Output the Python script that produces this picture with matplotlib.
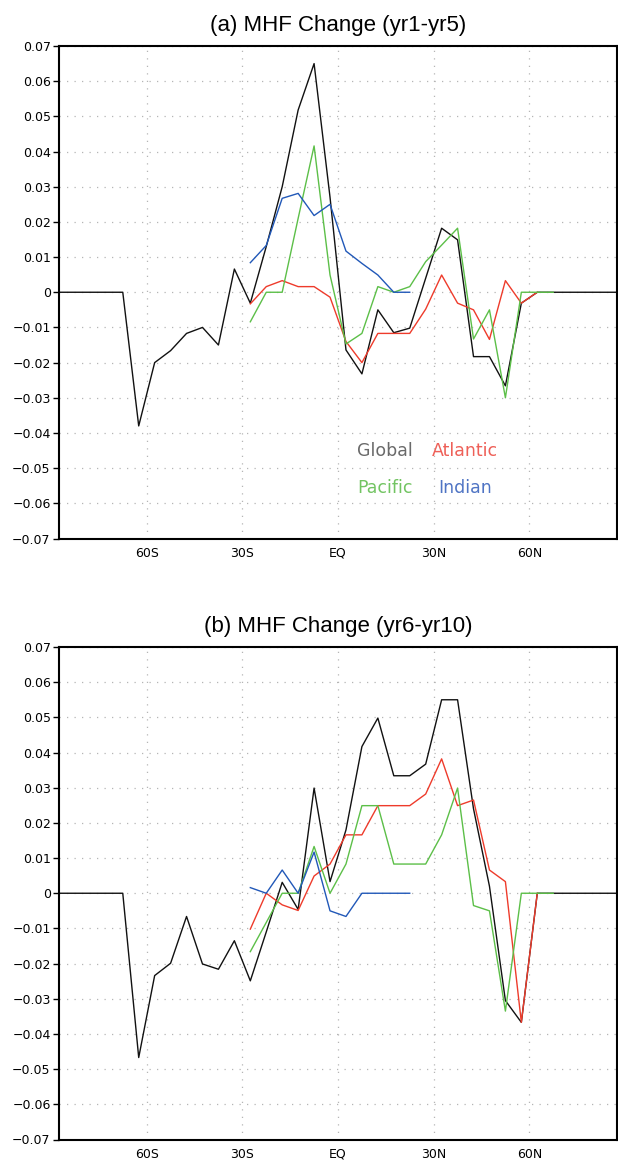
# %% Imports
import numpy as np
import matplotlib
matplotlib.use("Agg")
import matplotlib.pyplot as plt

# %% Data: meridional heat flux change (PW) on 5-degree latitude bands
lats = np.arange(-87.5, 90.0, 5.0)
basin_start_lat = -27.5

global_a = [0, 0, 0, 0, 0,
            -0.038, -0.020, -0.0166, -0.0117, -0.010, -0.015, 0.0066, -0.0031,
            0.013, 0.030, 0.0518, 0.065, 0.027,
            -0.0164, -0.0232, -0.005, -0.0115, -0.0102, 0.004, 0.0182, 0.0149,
            -0.0183, -0.0183, -0.0266, -0.0031,
            0, 0, 0, 0, 0, 0]
atlantic_a = [-0.0033, 0.0016, 0.0033, 0.0016, 0.0016, -0.0014,
              -0.014, -0.020, -0.0117, -0.0117, -0.0117, -0.0048, 0.0049,
              -0.0031, -0.005, -0.0134, 0.0033, -0.0031, 0]
pacific_a = [-0.0084, 0, 0, 0.021, 0.0416, 0.0049,
             -0.0147, -0.0117, 0.0016, 0, 0.0016, 0.0087, 0.0134, 0.0182,
             -0.0133, -0.005, -0.030, 0, 0, 0]
indian_a = [0.0084, 0.0133, 0.0267, 0.0281, 0.0218, 0.025,
            0.0117, 0.0082, 0.0049, 0, 0]

global_b = [0, 0, 0, 0, 0,
            -0.0467, -0.0234, -0.0199, -0.0066, -0.0201, -0.0216, -0.0135,
            -0.0249, -0.011, 0.0031, -0.0046, 0.0299, 0.0033,
            0.018, 0.0417, 0.0498, 0.0334, 0.0334, 0.0367, 0.055, 0.055,
            0.024, 0.002, -0.0305, -0.0367,
            0, 0, 0, 0, 0, 0]
atlantic_b = [-0.0102, 0, -0.0033, -0.0049, 0.0049, 0.0083,
              0.0166, 0.0166, 0.0249, 0.0249, 0.0249, 0.0282, 0.0382,
              0.0249, 0.0265, 0.0066, 0.0033, -0.0367, 0]
pacific_b = [-0.0166, -0.0083, 0, 0, 0.0133, 0,
             0.0083, 0.0249, 0.0249, 0.0083, 0.0083, 0.0083, 0.0166, 0.0299,
             -0.0035, -0.005, -0.0335, 0, 0, 0]
indian_b = [0.0016, 0, 0.0066, 0, 0.0117, -0.005,
            -0.0066, 0, 0, 0, 0]

xtick_vals = [-60, -30, 0, 30, 60]
xtick_labels = ["60S", "30S", "EQ", "30N", "60N"]
ytick_vals = np.round(np.arange(-0.07, 0.0701, 0.01), 2)
ytick_labels = ["\u22120.07", "\u22120.06", "\u22120.05", "\u22120.04",
                "\u22120.03", "\u22120.02", "\u22120.01", "0", "0.01",
                "0.02", "0.03", "0.04", "0.05", "0.06", "0.07"]

names = ["Global", "Atlantic", "Pacific", "Indian"]
line_colors = ["#111111", "#ee3b2b", "#5cbf48", "#2158b8"]
text_colors = ["#6a6a6a", "#ee6058", "#72c462", "#4f74c4"]


def basin_lats(vals):
    i0 = int(np.where(lats == basin_start_lat)[0][0])
    return lats[i0:i0 + len(vals)]


def draw_panel(ax, title, series, legend=False):
    ax.plot(lats, series[0], color=line_colors[0], lw=1.0)
    for vals, c in zip(series[1:], line_colors[1:]):
        ax.plot(basin_lats(vals), vals, color=c, lw=1.0)
    ax.set_xlim(-87.5, 87.5)
    ax.set_ylim(-0.07, 0.07)
    ax.set_xticks(xtick_vals)
    ax.set_xticklabels(xtick_labels)
    ax.set_yticks(ytick_vals)
    ax.set_yticklabels(ytick_labels)
    ax.tick_params(axis="x", length=0, pad=6, labelsize=9)
    ax.tick_params(axis="y", length=4, width=1, pad=2, labelsize=9)
    ax.grid(True, color="#b5b5b5", lw=0.9, linestyle=(0, (1, 5)))
    for sp in ax.spines.values():
        sp.set_linewidth(1.5)
    ax.set_title(title, fontsize=16, family="Liberation Sans", pad=11)
    if legend:
        pos = [(0.584, 0.178), (0.727, 0.178), (0.584, 0.103), (0.727, 0.103)]
        for name, c, (px, py) in zip(names, text_colors, pos):
            ax.text(px, py, name, color=c, transform=ax.transAxes,
                    ha="center", va="center", fontsize=12.5,
                    family="DejaVu Sans")


# %% Make Plots
fig = plt.figure(figsize=(6.18, 11.6), dpi=100)
W, H = 618.0, 1160.0
ax_a = fig.add_axes([59 / W, 1 - 538.5 / H, 558 / W, 492.5 / H])
ax_b = fig.add_axes([59 / W, 1 - 1139.5 / H, 558 / W, 492.5 / H])

draw_panel(ax_a, "(a) MHF Change (yr1-yr5)",
           [global_a, atlantic_a, pacific_a, indian_a], legend=True)
draw_panel(ax_b, "(b) MHF Change (yr6-yr10)",
           [global_b, atlantic_b, pacific_b, indian_b])

fig.savefig("out.png", dpi=100)
